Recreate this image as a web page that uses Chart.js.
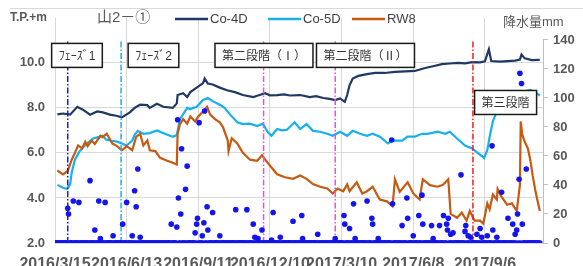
<!DOCTYPE html>
<html>
<head>
<meta charset="utf-8">
<script src="https://cdn.jsdelivr.net/npm/chart.js@4/dist/chart.umd.min.js"></script>
<style>
  html, body { margin: 0; padding: 0; background: #fff; overflow: hidden; }
  canvas { display: block; }
</style>
</head>
<body>
<canvas id="chart" width="583" height="266"></canvas>
<script>
// days counted from 2016/3/15
const co4dDays = [3,10,19,28,35,44,53,60,69,77, 84,94,100,107,116,119,128,136,148,153,
  154,161,166,170,178,186,188,192,198,207, 216,226,236,249,255,264,270,279,288,295,
  308,320,328,337,345,352,358,364,367,370, 374,381,392,402,414,427,440,452,465,475,
  486,496,506,515,524,534,540,545,548,559, 569,578,584,586,590,599,609];
const co4dLevel = [7.71,7.75,7.7,8.05,7.92,7.7,7.84,7.8,7.7,7.65, 7.58,7.8,8.0,8.14,8.12,8.0,8.18,8.05,8.0,8.2,
  8.57,8.65,8.48,8.7,8.9,9.1,9.3,9.08,9.04,8.9, 8.78,8.7,8.57,8.48,8.55,8.65,8.56,8.57,8.6,8.55,
  8.57,8.48,8.52,8.44,8.4,8.35,8.42,8.27,8.57,9.0, 9.3,9.42,9.5,9.55,9.55,9.6,9.62,9.64,9.77,9.85,
  9.94,9.97,10.0,9.98,10.03,10.02,10.07,10.6,10.08,10.05, 10.08,10.1,10.15,10.37,10.2,10.12,10.13];

const co5dDays = [3,10,15,19,21,25,31,40,48,54, 60,64,69,78,84,90,97,100,104,111,
  119,128,138,148,153,157,166,170,178,186, 192,198,207,213,220,229,236,245,254,261,
  267,272,279,285,291,301,308,316,324,333, 342,349,358,367,374,383,392,399,408,414,
  418,424,436,443,452,461,468,481,490,496, 505,515,524,531,539,543,546,550,555,561,
  569,578,586,597,603,609];
const co5dLevel = [4.58,4.45,4.4,4.6,5.13,5.7,6.08,6.42,6.64,6.7, 6.76,6.6,6.55,6.5,6.42,6.33,6.55,6.8,6.98,6.85,
  6.88,7.0,6.85,6.72,6.8,7.5,8.0,7.95,8.05,8.35, 8.44,8.3,8.14,8.0,7.7,7.36,7.28,7.3,7.19,7.3,
  6.94,6.76,7.06,7.0,7.02,7.36,7.06,7.28,6.98,6.94, 6.85,6.76,6.94,6.76,6.98,6.85,6.76,6.85,6.72,6.55,
  6.42,6.55,6.55,6.72,6.72,6.85,6.85,6.94,6.85,6.94, 6.64,6.33,6.2,6.0,5.78,6.12,6.72,7.4,7.84,8.05,
  8.15,8.4,8.7,8.8,8.7,8.55];

const rw8Days = [3,10,16,21,25,29,34,38,41,46, 50,57,60,65,72,78,84,90,97,102,
  107,111,116,119,126,132,141,148,153,154, 157,161,166,170,176,180,186,191,195,201,
  207,211,217,218,222,229,236,245,254,260, 264,272,279,289,299,308,316,324,333,342,
  349,355,362,367,370,379,386,392,399,408, 417,424,427,433,443,450,458,462,471,480,
  487,494,497,505,511,517,521,527,534,538, 543,546,550,555,556,561,568,574,580,584,
  585,587,590,594,597,600,603,606,609];
const rw8Level = [5.22,5.05,5.2,5.7,6.0,6.33,6.2,6.5,6.3,6.55, 6.4,6.76,6.7,6.85,6.42,6.3,6.12,6.3,6.12,6.72,
  6.85,6.33,6.55,6.12,6.08,5.78,5.65,5.56,5.48,6.85, 7.28,7.5,7.3,7.62,7.4,7.62,7.84,8.05,7.7,7.5,
  7.36,7.15,6.55,6.08,6.65,6.42,6.0,5.7,5.65,5.9, 5.7,5.35,5.05,4.92,4.85,5.0,4.85,4.62,4.5,4.42,
  4.2,4.42,4.3,4.6,4.3,4.7,4.2,4.3,4.5,3.93, 3.85,3.63,4.83,4.27,4.7,4.2,3.93,4.83,4.57,4.5,
  4.57,4.83,3.29,3.12,3.35,2.99,3.42,2.99,2.99,2.86, 3.76,3.5,4.15,3.93,4.4,4.05,3.7,3.76,3.42,4.57,
  7.4,6.8,6.5,6.2,5.7,5.0,4.4,3.9,3.42];

// wet days only; every other day of the record had 0 mm
const rainDays = [16,17,23,30,44,50,55,57,63,73, 85,90,97,100,102,104,107,146,153,154,
  155,158,159,164,166,176,178,179,181,185, 187,188,191,192,198,207,227,241,249,251,
  255,260,272,274,283,299,310,311,330,352, 363,364,370,375,377,392,398,399,406,423,
  424,436,442,443,450,457,461,462,473,475, 483,488,492,493,494,497,500,510,515,516,
  519,522,530,534,536,543,549,550,555,561, 569,575,578,580,581,583,584,586,587,592];
const rainMm = [24,20,29,28,43,9,29,3,28,5, 13,28,5,36,25,51,4,13,11,85,
  31,20,65,37,53,7,13,17,83,5, 14,91,25,9,21,5,23,23,13,4,
  3,9,2,21,4,15,19,3,6,3, 19,13,10,27,3,29,17,13,3,71,
  27,12,31,17,5,19,33,13,12,3, 12,19,13,9,17,6,7,47,8,12,
  5,4,6,10,4,5,67,9,4,35, 17,13,6,9,20,44,117,110,13,51];
const recordFirstDay = 0;
const recordLastDay = 609;

const eventDays = [16, 83, 262, 352, 525];
const boxTexts = ['ﾌｪｰｽﾞ1', 'ﾌｪｰｽﾞ2', '第二段階（Ⅰ）', '第二段階（Ⅱ）', '第三段階'];
const boxDays = [27.6, 123.7, 262.5, 390, 566];
const boxLevels = [10.33, 10.33, 10.33, 10.33, 8.24];

const xTickDays = [0, 90, 180, 270, 360, 450, 540];
const leftTicks = [2, 4, 6, 8, 10];
const rightTicks = [0, 20, 40, 60, 80, 100, 120, 140];

const FONT = "'Liberation Sans', 'Noto Sans CJK JP', sans-serif";
const START = Date.UTC(2016, 2, 15);
const eventColors = ['#1a1ae6', '#1fb0ea', '#f04ce0', '#f04ce0', '#ee2020'];
const C4 = '#203864', C5 = '#17b0ee', RW = '#c55a11';

function dayLabel(d) {
  const t = new Date(START + d * 86400000);
  return t.getUTCFullYear() + '/' + (t.getUTCMonth() + 1) + '/' + t.getUTCDate();
}
function pts(days, vals) { return days.map((d, i) => ({ x: d, y: vals[i] })); }

const rainPts = [];
for (let d = recordFirstDay; d <= recordLastDay; d++) {
  const k = rainDays.indexOf(d);
  rainPts.push({ x: d, y: k >= 0 ? rainMm[k] : 0 });
}

Chart.defaults.font.family = FONT;

const lineOpts = { showLine: true, pointRadius: 0, borderWidth: 2.2, tension: 0, yAxisID: 'y' };
const datasets = [
  { label: '降水量', data: rainPts, yAxisID: 'yR', pointRadius: 2.8, borderWidth: 0,
    backgroundColor: '#1414ee', showLine: false, order: 0 },
  ...eventDays.map((d, i) => ({ label: 'ev' + i, data: [{ x: d, y: 2 }, { x: d, y: 11 }],
    ...lineOpts, borderWidth: 1.5, borderColor: eventColors[i], borderDash: [6, 2, 1.5, 2], order: 1 })),
  { label: 'RW8', data: pts(rw8Days, rw8Level), ...lineOpts, borderColor: RW, order: 2 },
  { label: 'Co-5D', data: pts(co5dDays, co5dLevel), ...lineOpts, borderColor: C5, order: 3 },
  { label: 'Co-4D', data: pts(co4dDays, co4dLevel), ...lineOpts, borderColor: C4, order: 4 }
];

const decor = {
  id: 'decor',
  afterDraw(chart) {
    const ctx = chart.ctx, x = chart.scales.x, y = chart.scales.y, yR = chart.scales.yR;
    ctx.save();
    // top frame
    ctx.strokeStyle = '#d9d9d9'; ctx.lineWidth = 1;
    ctx.beginPath(); ctx.moveTo(10, 8.5); ctx.lineTo(583, 8.5); ctx.stroke();
    // right axis line
    ctx.strokeStyle = '#bfbfbf';
    const ax = Math.round(yR.left) + 0.5;
    ctx.beginPath(); ctx.moveTo(ax, yR.getPixelForValue(140)); ctx.lineTo(ax, yR.getPixelForValue(0)); ctx.stroke();

    // stage boxes
    ctx.font = '12px ' + FONT;
    ctx.textAlign = 'center'; ctx.textBaseline = 'middle';
    boxTexts.forEach((t, i) => {
      const cx = x.getPixelForValue(boxDays[i]), cy = y.getPixelForValue(boxLevels[i]);
      const w = ctx.measureText(t).width + 14, h = 24;
      ctx.fillStyle = '#fff';
      ctx.fillRect(cx - w / 2, cy - h / 2, w, h);
      ctx.strokeStyle = '#1a1a1a'; ctx.lineWidth = 1.5;
      ctx.strokeRect(cx - w / 2, cy - h / 2, w, h);
      ctx.fillStyle = '#333';
      ctx.fillText(t, cx, cy + 1);
    });

    // titles
    ctx.textAlign = 'left';
    ctx.fillStyle = '#595959';
    ctx.font = 'bold 12px ' + FONT;
    ctx.fillText('T.P.+m', 10, 18);
    ctx.font = '15px ' + FONT;
    ctx.fillText('山2－①', 97, 18);
    ctx.font = '13px ' + FONT;
    ctx.fillText('降水量mm', 503, 22);

    // legend
    const items = [['Co-4D', C4, 175], ['Co-5D', C5, 268], ['RW8', RW, 352]];
    ctx.font = '13px ' + FONT;
    items.forEach(([name, col, lx]) => {
      ctx.strokeStyle = col; ctx.lineWidth = 2.5;
      ctx.beginPath(); ctx.moveTo(lx, 19); ctx.lineTo(lx + 33, 19); ctx.stroke();
      ctx.fillStyle = '#404040';
      ctx.fillText(name, lx + 35, 19);
    });
    ctx.restore();
  }
};

new Chart(document.getElementById('chart'), {
  type: 'scatter',
  data: { datasets },
  plugins: [decor],
  options: {
    responsive: false,
    animation: false,
    layout: { padding: { top: 10, left: 0, right: 0, bottom: 0 } },
    plugins: { legend: { display: false }, tooltip: { enabled: false } },
    scales: {
      x: {
        type: 'linear', min: 0, max: 613,
        afterFit: s => { s.height = 23; },
        afterBuildTicks: s => { s.ticks = xTickDays.map(v => ({ value: v })); },
        grid: { color: '#d9d9d9', drawTicks: false },
        border: { display: false },
        ticks: { autoSkip: false, maxRotation: 0, padding: 12, color: '#595959',
          font: { size: 16, weight: 'bold' }, callback: v => dayLabel(v) }
      },
      y: {
        position: 'left', min: 2, max: 12,
        afterFit: s => { s.width = 55; },
        afterBuildTicks: s => { s.ticks = leftTicks.map(v => ({ value: v })); },
        grid: { color: '#d9d9d9', drawTicks: false },
        border: { display: false },
        ticks: { padding: 10, color: '#595959', font: { size: 13, weight: 'bold' },
          callback: v => v.toFixed(1) }
      },
      yR: {
        position: 'right', min: 0, max: 155.3,
        afterFit: s => { s.width = 40; },
        afterBuildTicks: s => { s.ticks = rightTicks.map(v => ({ value: v })); },
        grid: { drawOnChartArea: false, drawTicks: true, tickLength: 5, color: '#bfbfbf' },
        border: { display: false },
        ticks: { padding: 5, color: '#595959', font: { size: 13, weight: 'bold' } }
      }
    }
  }
});
</script>
</body>
</html>
